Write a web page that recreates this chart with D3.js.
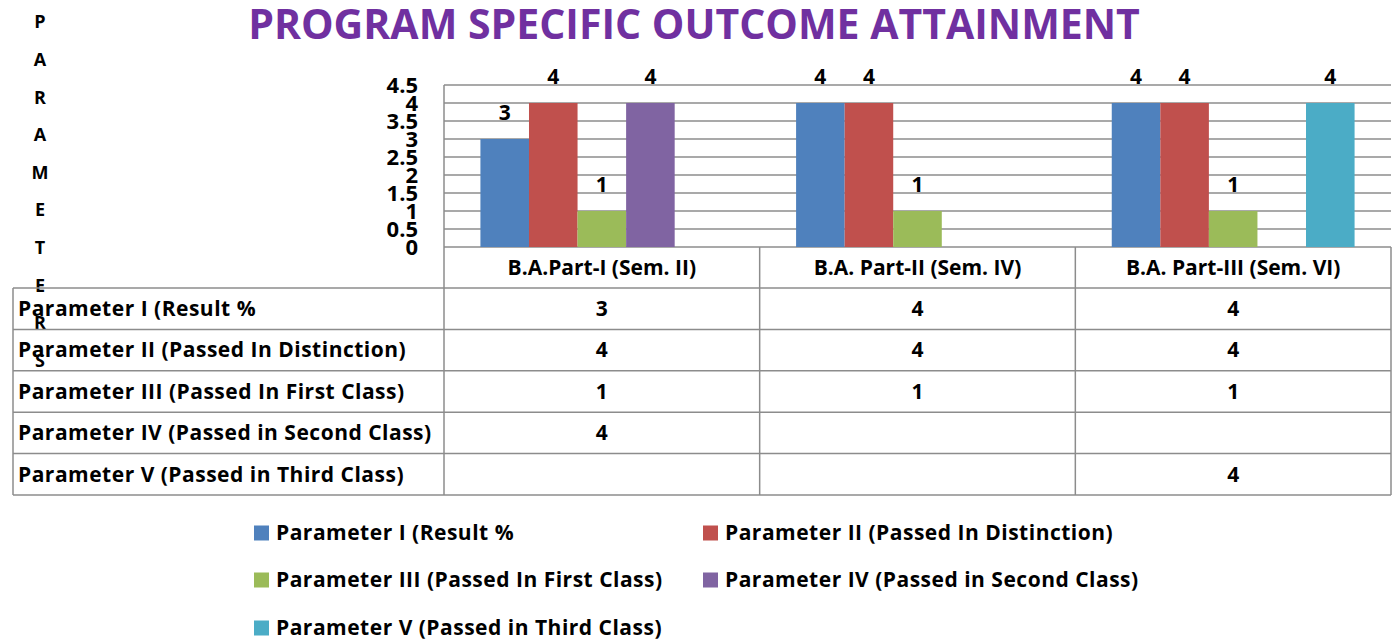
<!DOCTYPE html>
<html>
<head>
<meta charset="utf-8">
<script src="https://cdn.jsdelivr.net/npm/d3@7"></script>
<style>
  html, body { margin: 0; padding: 0; background: #fff; }
  svg text { font-family: "Open Sans", Lato, sans-serif; font-weight: bold; }
</style>
</head>
<body>
<svg id="chart" width="1397" height="642"></svg>
<script>
// ---- data ----
const title = "PROGRAM SPECIFIC OUTCOME ATTAINMENT";
const axisTitle = "PARAMETERS";
const categories = ["B.A.Part-I (Sem. II)", "B.A. Part-II (Sem. IV)", "B.A. Part-III (Sem. VI)"];
const seriesNames = [
  "Parameter I (Result %",
  "Parameter II (Passed In Distinction)",
  "Parameter III (Passed In First Class)",
  "Parameter IV (Passed in Second Class)",
  "Parameter V (Passed in Third Class)"
];
const param1 = [3, 4, 4];
const param2 = [4, 4, 4];
const param3 = [1, 1, 1];
const param4 = [4, null, null];
const param5 = [null, null, 4];
const yTicks = [0, 0.5, 1, 1.5, 2, 2.5, 3, 3.5, 4, 4.5];
const colors = ["#4F81BD", "#C0504D", "#9BBB59", "#8064A2", "#4BACC6"];

const seriesValues = [param1, param2, param3, param4, param5];

// ---- layout ----
const svg = d3.select("#chart");
const plotLeft = 444, plotRight = 1391, plotTop = 85, plotBottom = 247;
const tableLeft = 13, headerBottom = 288, rowH = 41.4;
const gridColor = "#8c8c8c";
const fs = 21;
const ls = "0.5px";

const y = d3.scaleLinear().domain([0, 4.5]).range([plotBottom, plotTop]);
const x0 = d3.scaleBand().domain(categories).range([plotLeft, plotRight]).padding(0);
const x1 = d3.scaleBand().domain(seriesNames).range([0, x0.bandwidth()]).paddingInner(0).paddingOuter(0.75);
const color = d3.scaleOrdinal().domain(seriesNames).range(colors);

// title
svg.append("text")
  .attr("x", 694).attr("y", 39)
  .attr("text-anchor", "middle")
  .attr("font-size", 41)
  .attr("fill", "#7030A0")
  .text(title);

// vertical axis title (stacked letters)
svg.append("g").selectAll("text")
  .data(axisTitle.split(""))
  .join("text")
  .attr("x", 40)
  .attr("y", (d, i) => 22 + i * 37.6)
  .attr("dy", "0.35em")
  .attr("text-anchor", "middle")
  .attr("font-size", 18)
  .attr("fill", "#000")
  .text(d => d);

// gridlines
svg.append("g").selectAll("line")
  .data(yTicks)
  .join("line")
  .attr("x1", plotLeft).attr("x2", plotRight)
  .attr("y1", d => y(d)).attr("y2", d => y(d))
  .attr("stroke", gridColor).attr("stroke-width", 1.5);

// y axis labels
const yAxis = d3.axisLeft(y).tickValues(yTicks).tickSize(0).tickPadding(26).tickFormat(d3.format("~g"));
const yg = svg.append("g").attr("transform", `translate(${plotLeft},0)`).call(yAxis);
yg.select(".domain").remove();
yg.selectAll("text").attr("font-size", 22).attr("fill", "#000")
  .style("font-family", "'Open Sans', sans-serif").style("font-weight", "bold");

// bars
const groups = svg.append("g").selectAll("g")
  .data(categories)
  .join("g")
  .attr("transform", d => `translate(${x0(d)},0)`);

groups.each(function(cat, ci) {
  const g = d3.select(this);
  const items = seriesNames.map((s, si) => ({ s, v: seriesValues[si][ci] })).filter(d => d.v != null);
  g.selectAll("rect").data(items).join("rect")
    .attr("x", d => x1(d.s))
    .attr("y", d => y(d.v))
    .attr("width", x1.bandwidth())
    .attr("height", d => y(0) - y(d.v))
    .attr("fill", d => color(d.s));
  g.selectAll("text.lbl").data(items).join("text")
    .attr("class", "lbl")
    .attr("x", d => x1(d.s) + x1.bandwidth() / 2)
    .attr("y", d => y(d.v) - 19)
    .attr("text-anchor", "middle")
    .attr("font-size", 21)
    .attr("fill", "#000")
    .text(d => d3.format("~g")(d.v));
});

// data table
const tableBottom = headerBottom + rowH * seriesNames.length;
const tg = svg.append("g");
tg.append("line").attr("x1", plotLeft).attr("x2", plotLeft).attr("y1", plotTop).attr("y2", tableBottom)
  .attr("stroke", gridColor).attr("stroke-width", 1.5);
const colEdges = categories.map(c => x0(c) + x0.bandwidth());
tg.selectAll("line.col").data(colEdges).join("line").attr("class", "col")
  .attr("x1", d => d).attr("x2", d => d).attr("y1", plotBottom).attr("y2", tableBottom)
  .attr("stroke", gridColor).attr("stroke-width", 1.5);
tg.append("line").attr("x1", tableLeft).attr("x2", tableLeft).attr("y1", headerBottom).attr("y2", tableBottom)
  .attr("stroke", gridColor).attr("stroke-width", 1.5);
const rowLines = d3.range(seriesNames.length + 1).map(i => headerBottom + i * rowH);
tg.selectAll("line.row").data(rowLines).join("line").attr("class", "row")
  .attr("x1", tableLeft).attr("x2", plotRight).attr("y1", d => d).attr("y2", d => d)
  .attr("stroke", gridColor).attr("stroke-width", 1.5);

tg.selectAll("text.cat").data(categories).join("text").attr("class", "cat")
  .attr("x", d => x0(d) + x0.bandwidth() / 2)
  .attr("y", (plotBottom + headerBottom) / 2)
  .attr("dy", "0.35em")
  .attr("text-anchor", "middle")
  .attr("font-size", fs)
  .attr("fill", "#000")
  .text(d => d);

seriesNames.forEach((s, si) => {
  const cy = headerBottom + si * rowH + rowH / 2;
  tg.append("text").attr("x", tableLeft + 5).attr("y", cy).attr("dy", "0.35em")
    .attr("font-size", fs).attr("letter-spacing", ls).attr("fill", "#000").text(s);
  categories.forEach((c, ci) => {
    const v = seriesValues[si][ci];
    if (v == null) return;
    tg.append("text").attr("x", x0(c) + x0.bandwidth() / 2).attr("y", cy).attr("dy", "0.35em")
      .attr("text-anchor", "middle").attr("font-size", 21).attr("fill", "#000").text(d3.format("~g")(v));
  });
});

// legend
const legendPos = [[254, 533], [703, 533], [254, 580], [703, 580], [254, 628]];
const lg = svg.append("g").selectAll("g").data(seriesNames).join("g")
  .attr("transform", (d, i) => `translate(${legendPos[i][0]},${legendPos[i][1]})`);
lg.append("rect").attr("x", 0).attr("y", -7.5).attr("width", 15).attr("height", 15).attr("fill", d => color(d));
lg.append("text").attr("x", 22).attr("y", 0).attr("dy", "0.35em")
  .attr("font-size", fs).attr("letter-spacing", ls).attr("fill", "#000").text(d => d);
</script>
</body>
</html>
